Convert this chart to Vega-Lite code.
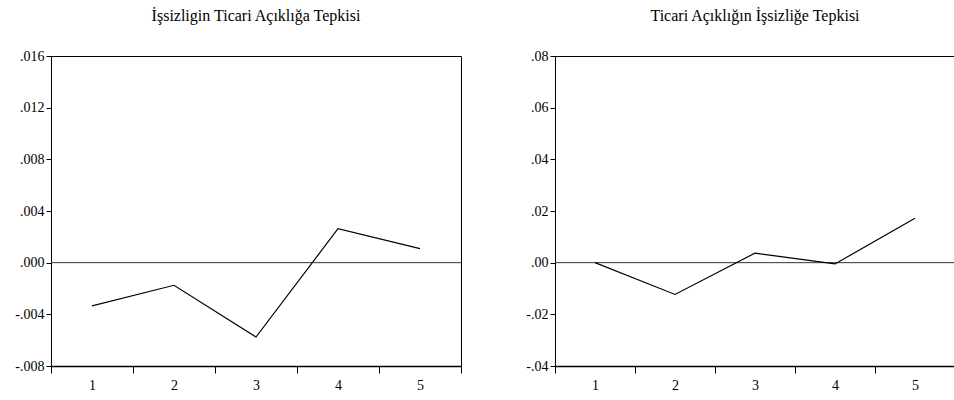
{
  "$schema": "https://vega.github.io/schema/vega-lite/v6.json",
  "background": "white",
  "padding": {"left": 0, "top": 7, "right": 0, "bottom": 0},
  "spacing": 42,
  "config": {
    "font": "Liberation Serif, Times New Roman, serif",
    "view": {"stroke": "black", "strokeWidth": 1},
    "axis": {"labelFont": "Liberation Serif, Times New Roman, serif", "labelFontSize": 14, "labelColor": "black", "tickColor": "black", "domainColor": "black", "grid": false},
    "title": {"font": "Liberation Serif, Times New Roman, serif", "fontSize": 16, "fontWeight": "normal", "color": "black"}
  },
  "datasets": {
    "left": [
      {"period": "1", "value": -0.00334},
      {"period": "2", "value": -0.00175},
      {"period": "3", "value": -0.00576},
      {"period": "4", "value": 0.00263},
      {"period": "5", "value": 0.00109}
    ],
    "right": [
      {"period": "1", "value": 0.0},
      {"period": "2", "value": -0.0123},
      {"period": "3", "value": 0.0037},
      {"period": "4", "value": -0.0005},
      {"period": "5", "value": 0.0172}
    ]
  },
  "hconcat": [
    {
      "width": 410,
      "height": 310,
      "title": {"text": "İşsizligin Ticari Açıklığa Tepkisi", "offset": 25},
      "layer": [
        {
          "data": {"values": [{}]},
          "mark": {"type": "rule", "color": "#333333", "strokeWidth": 1},
          "encoding": {"y": {"datum": 0, "type": "quantitative"}}
        },
        {
          "data": {"name": "left"},
          "mark": {"type": "line", "color": "black", "strokeWidth": 1.2},
          "encoding": {
            "x": {"field": "period", "type": "ordinal", "bandPosition": 0.5,
                  "scale": {"type": "band", "paddingInner": 0, "paddingOuter": 0},
                  "axis": {"title": null, "labelAngle": 0, "tickBand": "extent", "tickSize": 7, "labelPadding": 5, "domainWidth": 1.5}},
            "y": {"field": "value", "type": "quantitative",
                  "scale": {"domain": [-0.008, 0.016], "nice": false, "zero": false},
                  "axis": {"title": null, "values": [-0.008, -0.004, 0, 0.004, 0.008, 0.012, 0.016],
                           "labelExpr": "replace(replace(format(datum.value, '.3f'), '0.', '.'), '\u2212', '-')",
                           "tickSize": 5, "labelPadding": 2, "minExtent": 50, "maxExtent": 50}}
          }
        }
      ]
    },
    {
      "width": 400,
      "height": 310,
      "title": {"text": "Ticari Açıklığın İşsizliğe Tepkisi", "offset": 25},
      "layer": [
        {
          "data": {"values": [{}]},
          "mark": {"type": "rule", "color": "#333333", "strokeWidth": 1},
          "encoding": {"y": {"datum": 0, "type": "quantitative"}}
        },
        {
          "data": {"name": "right"},
          "mark": {"type": "line", "color": "black", "strokeWidth": 1.2},
          "encoding": {
            "x": {"field": "period", "type": "ordinal", "bandPosition": 0.5,
                  "scale": {"type": "band", "paddingInner": 0, "paddingOuter": 0},
                  "axis": {"title": null, "labelAngle": 0, "tickBand": "extent", "tickSize": 7, "labelPadding": 5, "domainWidth": 1.5}},
            "y": {"field": "value", "type": "quantitative",
                  "scale": {"domain": [-0.04, 0.08], "nice": false, "zero": false},
                  "axis": {"title": null, "values": [-0.04, -0.02, 0, 0.02, 0.04, 0.06, 0.08],
                           "labelExpr": "replace(replace(format(datum.value, '.2f'), '0.', '.'), '\u2212', '-')",
                           "tickSize": 5, "labelPadding": 2, "minExtent": 50, "maxExtent": 50}}
          }
        }
      ]
    }
  ]
}
